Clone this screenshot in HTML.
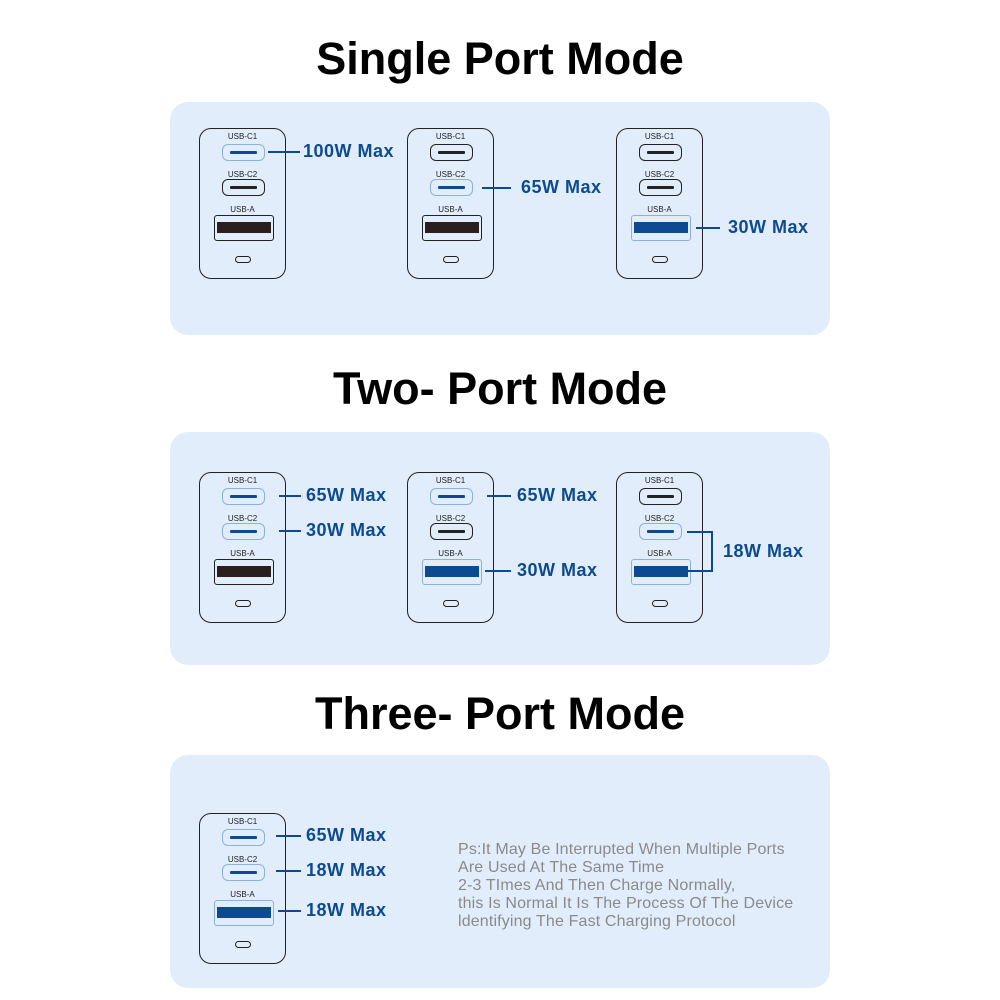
<!DOCTYPE html>
<html><head><meta charset="utf-8"><style>
*{margin:0;padding:0;box-sizing:border-box}
body{width:1000px;height:1000px;background:#fff;position:relative;overflow:hidden;font-family:"Liberation Sans",sans-serif}
.t{position:absolute;left:0;width:1000px;text-align:center;font-weight:bold;font-size:45px;color:#000}
.p{position:absolute;left:170px;width:660px;height:233px;background:#e2edfb;border-radius:18px}
.c{position:absolute;width:87px;height:151px;border:1.5px solid #222;border-radius:12px}
.l{position:absolute;left:0;width:100%;text-align:center;font-size:8px;color:#222}
.pc{position:absolute;left:22px;width:43px;height:17px;border:1.5px solid #222;border-radius:6px}
.pc i{position:absolute;left:7px;right:7px;top:5.5px;height:3px;background:#222;border-radius:1px}
.pa{position:absolute;left:14px;top:86px;width:60px;height:26px;border:1.5px solid #222;border-radius:3px}
.pa i{position:absolute;left:2px;right:2px;top:6px;height:11px;background:#2a1e1e}
.on{border-color:#8fb0d8}
.on i{background:#0d4a8f}
.o{position:absolute;left:35px;top:127px;width:16px;height:7px;border:1.5px solid #222;border-radius:4px}
.ln{position:absolute;height:2px;background:#0d4a8f}
.tx{position:absolute;font-weight:bold;font-size:18px;letter-spacing:0.5px;color:#0d4a8f;line-height:20px}
.ps{position:absolute;left:458px;top:841px;font-size:16px;letter-spacing:0.15px;line-height:18px;color:#8a8a8a}
</style></head><body>
<div class="t" style="top:33px">Single Port Mode</div>
<div class="t" style="top:363px">Two- Port Mode</div>
<div class="t" style="top:688px">Three- Port Mode</div>
<div class="p" style="top:102px"></div>
<div class="p" style="top:432px"></div>
<div class="p" style="top:755px"></div>

<!-- row1 -->
<div class="c" style="left:199px;top:128px"><div class="l" style="top:3px">USB-C1</div><div class="pc on" style="top:15px"><i></i></div><div class="l" style="top:41px">USB-C2</div><div class="pc" style="top:50px"><i></i></div><div class="l" style="top:76px">USB-A</div><div class="pa"><i></i></div><div class="o"></div></div>
<div class="c" style="left:407px;top:128px"><div class="l" style="top:3px">USB-C1</div><div class="pc" style="top:15px"><i></i></div><div class="l" style="top:41px">USB-C2</div><div class="pc on" style="top:50px"><i></i></div><div class="l" style="top:76px">USB-A</div><div class="pa"><i></i></div><div class="o"></div></div>
<div class="c" style="left:616px;top:128px"><div class="l" style="top:3px">USB-C1</div><div class="pc" style="top:15px"><i></i></div><div class="l" style="top:41px">USB-C2</div><div class="pc" style="top:50px"><i></i></div><div class="l" style="top:76px">USB-A</div><div class="pa on"><i></i></div><div class="o"></div></div>
<div class="ln" style="left:268px;top:151px;width:32px"></div><div class="tx" style="left:303px;top:141px">100W Max</div>
<div class="ln" style="left:482px;top:187px;width:29px"></div><div class="tx" style="left:521px;top:177px">65W Max</div>
<div class="ln" style="left:696px;top:227px;width:24px"></div><div class="tx" style="left:728px;top:217px">30W Max</div>

<!-- row2 -->
<div class="c" style="left:199px;top:472px"><div class="l" style="top:3px">USB-C1</div><div class="pc on" style="top:15px"><i></i></div><div class="l" style="top:41px">USB-C2</div><div class="pc on" style="top:50px"><i></i></div><div class="l" style="top:76px">USB-A</div><div class="pa"><i></i></div><div class="o"></div></div>
<div class="c" style="left:407px;top:472px"><div class="l" style="top:3px">USB-C1</div><div class="pc on" style="top:15px"><i></i></div><div class="l" style="top:41px">USB-C2</div><div class="pc" style="top:50px"><i></i></div><div class="l" style="top:76px">USB-A</div><div class="pa on"><i></i></div><div class="o"></div></div>
<div class="c" style="left:616px;top:472px"><div class="l" style="top:3px">USB-C1</div><div class="pc" style="top:15px"><i></i></div><div class="l" style="top:41px">USB-C2</div><div class="pc on" style="top:50px"><i></i></div><div class="l" style="top:76px">USB-A</div><div class="pa on"><i></i></div><div class="o"></div></div>
<div class="ln" style="left:279px;top:495px;width:22px"></div><div class="tx" style="left:306px;top:485px">65W Max</div>
<div class="ln" style="left:279px;top:530px;width:22px"></div><div class="tx" style="left:306px;top:520px">30W Max</div>
<div class="ln" style="left:487px;top:495px;width:24px"></div><div class="tx" style="left:517px;top:485px">65W Max</div>
<div class="ln" style="left:485px;top:570px;width:26px"></div><div class="tx" style="left:517px;top:560px">30W Max</div>
<div style="position:absolute;left:687px;top:531px;width:26px;height:41px;border:2px solid #0d4a8f;border-left:none"></div>
<div class="tx" style="left:723px;top:541px">18W Max</div>

<!-- row3 -->
<div class="c" style="left:199px;top:813px"><div class="l" style="top:3px">USB-C1</div><div class="pc on" style="top:15px"><i></i></div><div class="l" style="top:41px">USB-C2</div><div class="pc on" style="top:50px"><i></i></div><div class="l" style="top:76px">USB-A</div><div class="pa on"><i></i></div><div class="o"></div></div>
<div class="ln" style="left:276px;top:835px;width:25px"></div><div class="tx" style="left:306px;top:825px">65W Max</div>
<div class="ln" style="left:276px;top:870px;width:25px"></div><div class="tx" style="left:306px;top:860px">18W Max</div>
<div class="ln" style="left:278px;top:910px;width:23px"></div><div class="tx" style="left:306px;top:900px">18W Max</div>

<div class="ps">Ps:It May Be Interrupted When Multiple Ports<br>Are Used At The Same Time<br>2-3 TImes And Then Charge Normally,<br>this Is Normal It Is The Process Of The Device<br>ldentifying The Fast Charging Protocol</div>
</body></html>
